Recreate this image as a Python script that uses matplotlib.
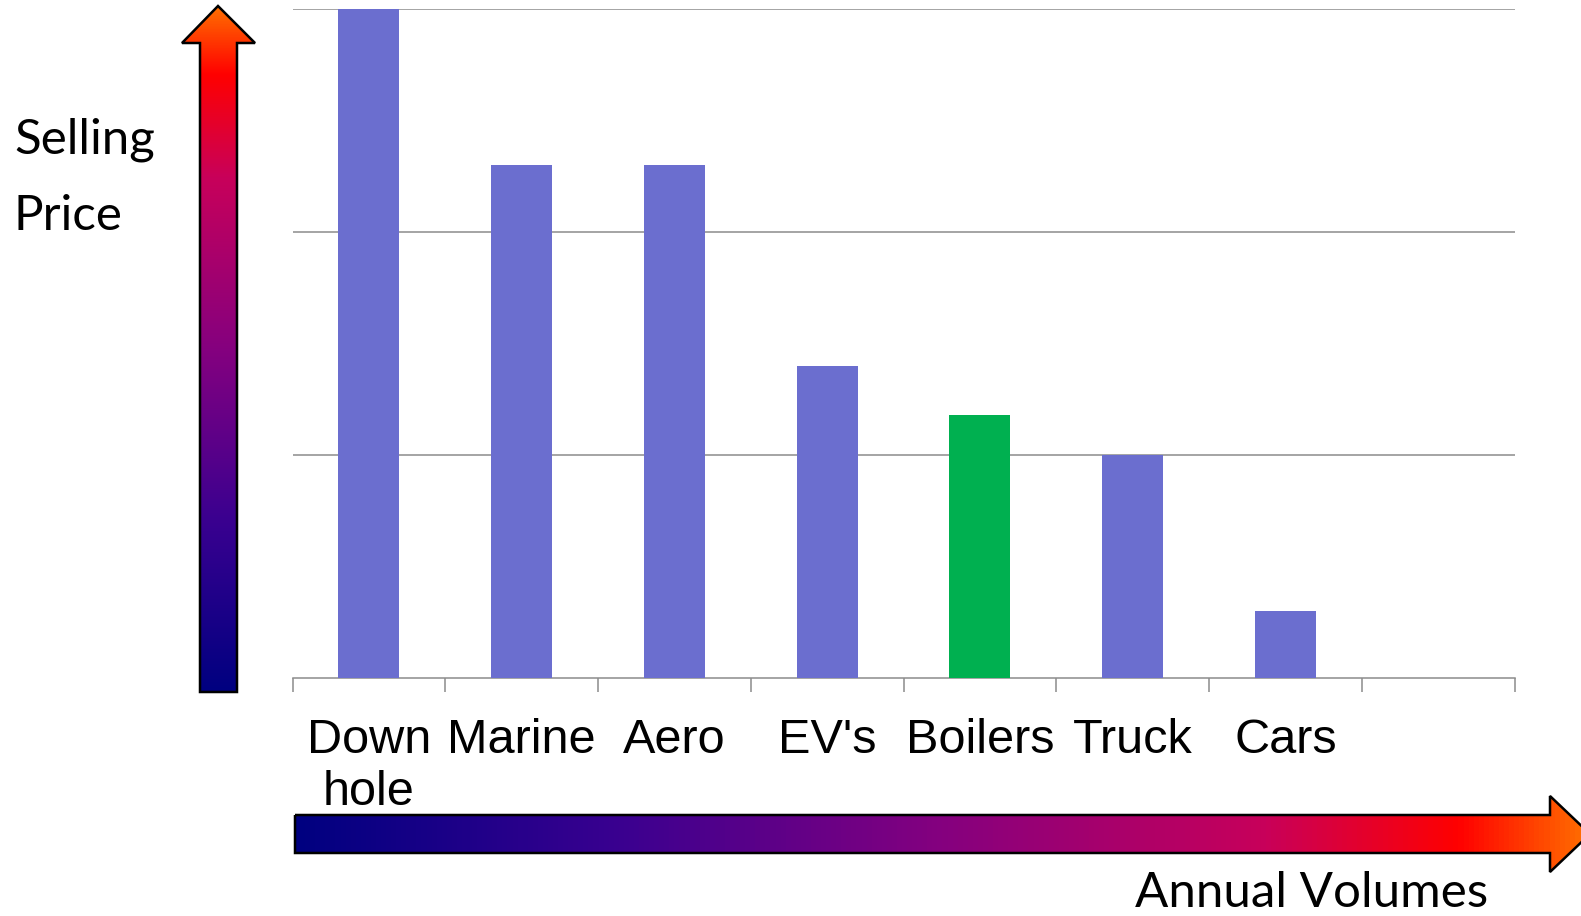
import numpy as np
import matplotlib
matplotlib.use('Agg')
import matplotlib.pyplot as plt
from matplotlib.colors import LinearSegmentedColormap
from matplotlib.patches import Polygon

# data (grid step = 1 unit)
categories = ["Down\nhole", "Marine", "Aero", "EV's", "Boilers", "Truck", "Cars"]
prices = [3.0, 2.30, 2.30, 1.40, 1.18, 1.0, 0.30]
bar_colors = ['#6B6ECF', '#6B6ECF', '#6B6ECF', '#6B6ECF', '#00B050', '#6B6ECF', '#6B6ECF']
n_slots = 8

W, H = 1581, 916
fig = plt.figure(figsize=(W / 100, H / 100), dpi=100)

# main bar axes
ax = fig.add_axes([292.5 / W, 1 - 678 / H, 1222 / W, 669 / H])
x = np.arange(len(categories))
ax.bar(x, prices, width=0.4, color=bar_colors, zorder=3)
ax.set_xlim(-0.5, n_slots - 0.5)
ax.set_ylim(0, 3)
ax.set_yticks([1, 2, 3])
ax.yaxis.grid(True, color='#8c8c8c', linewidth=1.1, zorder=0)
ax.tick_params(axis='y', length=0, labelleft=False)
for s in ['top', 'right', 'left']:
    ax.spines[s].set_visible(False)
ax.spines['bottom'].set_color('#8c8c8c')
ax.spines['bottom'].set_linewidth(1.1)

ax.set_xticks(np.arange(n_slots + 1) - 0.5)
ax.set_xticklabels([])
ax.tick_params(axis='x', which='major', length=10, width=1.1, color='#8c8c8c')
ax.set_xticks(x, minor=True)
ax.set_xticklabels(categories, minor=True, fontsize=35, family='Liberation Sans',
                   linespacing=1.2, va='top')
ax.tick_params(axis='x', which='minor', length=0, pad=29)

# overlay in pixel coordinates for the gradient arrows and captions
ov = fig.add_axes([0, 0, 1, 1], facecolor='none')
ov.axis('off')

cmap = LinearSegmentedColormap.from_list(
    'arr', [(0.0, '#000080'), (0.25, '#3A0090'), (0.5, '#85007F'),
            (0.75, '#C8005A'), (0.9, '#FF0000'), (1.0, '#FF7000')])

# vertical arrow (Selling Price)
vpts = [(200, 692), (237, 692), (237, 43), (255, 43), (218, 6), (182, 43), (200, 43)]
vpoly = Polygon(vpts, closed=True, facecolor='none', edgecolor='black', linewidth=1.8, zorder=3)
ov.add_patch(vpoly)
grad_v = np.linspace(0, 1, 256).reshape(-1, 1)
im = ov.imshow(grad_v, cmap=cmap, extent=[180, 257, 692, 5], origin='lower',
               aspect='auto', zorder=2)
im.set_clip_path(vpoly)

# horizontal arrow (Annual Volumes)
hpts = [(295, 815), (1550, 815), (1550, 796), (1590, 834), (1550, 872), (1550, 853), (295, 853)]
hpoly = Polygon(hpts, closed=True, facecolor='none', edgecolor='black', linewidth=1.8, zorder=3)
ov.add_patch(hpoly)
grad_h = np.linspace(0, 1, 256).reshape(1, -1)
im2 = ov.imshow(grad_h, cmap=cmap, extent=[295, 1590, 873, 795], aspect='auto', zorder=2)
im2.set_clip_path(hpoly)
ov.set_xlim(0, W)
ov.set_ylim(H, 0)

ov.text(14, 154, "Selling", fontsize=35.5, family='Lato', va='baseline', ha='left')
ov.text(14, 230, "Price", fontsize=35.5, family='Lato', va='baseline', ha='left')
ov.text(1488, 907, "Annual Volumes", fontsize=35.5, family='Lato', va='baseline', ha='right')

fig.savefig('out.png', dpi=100)
